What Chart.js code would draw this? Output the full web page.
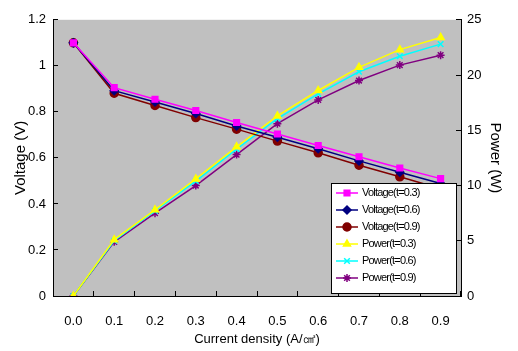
<!DOCTYPE html>
<html>
<head>
<meta charset="utf-8">
<script src="https://cdn.jsdelivr.net/npm/chart.js@4.4.0/dist/chart.umd.min.js"></script>
<style>
  body { margin: 0; background: #fff; }
  canvas { display: block; }
</style>
</head>
<body>
<canvas id="fuelChart" width="518" height="351"></canvas>
<script>
// 전류밀도별 전압/출력 곡선

const currentDensity = ["0.0", "0.1", "0.2", "0.3", "0.4", "0.5", "0.6", "0.7", "0.8", "0.9"];

const voltageT03 = [1.10, 0.905, 0.855, 0.806, 0.754, 0.704, 0.654, 0.605, 0.556, 0.51];
const voltageT06 = [1.10, 0.892, 0.843, 0.793, 0.739, 0.69, 0.64, 0.587, 0.538, 0.489];
const voltageT09 = [1.10, 0.881, 0.828, 0.775, 0.725, 0.673, 0.622, 0.568, 0.518, 0.466];

const powerT03 = [0, 5.1, 7.8, 10.6, 13.5, 16.3, 18.6, 20.7, 22.3, 23.4];
const powerT06 = [0, 5.0, 7.7, 10.4, 13.3, 16.05, 18.3, 20.3, 21.7, 22.8];
const powerT09 = [0, 4.9, 7.5, 10.0, 12.8, 15.6, 17.75, 19.5, 20.9, 21.8];

const voltageTicks = [0, 0.2, 0.4, 0.6, 0.8, 1.0, 1.2];
const powerTicks = [0, 5, 10, 15, 20, 25];

const fontFamily = "'Liberation Sans', Arial, sans-serif";

function makeSet(label, data, color, style, axis) {
  return {
    label: label,
    data: data,
    yAxisID: axis,
    borderColor: color,
    backgroundColor: color,
    borderWidth: 1.5,
    pointStyle: style,
    pointRadius: 4,
    pointBorderWidth: 1.5,
    pointBorderColor: color,
    pointBackgroundColor: color,
    tension: 0,
  };
}

const datasets = [
  makeSet("Voltage(t=0.3)", voltageT03, "#ff00ff", "rect", "y"),
  makeSet("Voltage(t=0.6)", voltageT06, "#000080", "rectRot", "y"),
  makeSet("Voltage(t=0.9)", voltageT09, "#800000", "circle", "y"),
  makeSet("Power(t=0.3)", powerT03, "#ffff00", "triangle", "y1"),
  makeSet("Power(t=0.6)", powerT06, "#00ffff", "crossRot", "y1"),
  makeSet("Power(t=0.9)", powerT09, "#800080", "star", "y1"),
];

// 플롯 영역 회색 배경
const plotBackground = {
  id: "plotBackground",
  beforeDraw(chart) {
    const { ctx, chartArea } = chart;
    ctx.save();
    ctx.fillStyle = "#c0c0c0";
    ctx.fillRect(chartArea.left, chartArea.top, chartArea.right - chartArea.left, chartArea.bottom - chartArea.top);
    ctx.restore();
  },
};

// 선 + 마커 범례
const boxLegend = {
  id: "boxLegend",
  afterDraw(chart) {
    const { ctx, chartArea } = chart;
    const x0 = chartArea.right - 130;
    const y0 = chartArea.bottom - 113;
    const w = 125;
    const h = 110;
    ctx.save();
    ctx.fillStyle = "#fff";
    ctx.fillRect(x0, y0, w, h);
    ctx.strokeStyle = "#000";
    ctx.lineWidth = 1;
    ctx.strokeRect(x0 + 0.5, y0 + 0.5, w, h);
    chart.data.datasets.forEach((ds, i) => {
      const y = y0 + 10 + i * 17;
      ctx.strokeStyle = ds.borderColor;
      ctx.lineWidth = 1.5;
      ctx.beginPath();
      ctx.moveTo(x0 + 5, y);
      ctx.lineTo(x0 + 27, y);
      ctx.stroke();
      ctx.fillStyle = ds.borderColor;
      Chart.helpers.drawPoint(ctx, { pointStyle: ds.pointStyle, radius: 4, borderWidth: 1.5 }, x0 + 16, y);
      ctx.fillStyle = "#000";
      ctx.font = "11px " + fontFamily;
      ctx.letterSpacing = "-0.8px";
      ctx.textBaseline = "middle";
      ctx.fillText(ds.label, x0 + 31, y);
    });
    ctx.restore();
  },
};

const ctx = document.getElementById("fuelChart").getContext("2d");
new Chart(ctx, {
  type: "line",
  data: {
    labels: currentDensity,
    datasets: datasets,
  },
  plugins: [plotBackground, boxLegend],
  options: {
    responsive: false,
    animation: false,
    layout: {
      padding: { top: 13, left: 0, right: 0, bottom: 0 },
    },
    plugins: {
      legend: { display: false },
      tooltip: { enabled: false },
    },
    scales: {
      x: {
        offset: true,
        grid: { offset: true, drawOnChartArea: false, tickLength: -5, color: "#000" },
        border: { display: true, color: "#000", width: 1 },
        ticks: { color: "#000", padding: 23, maxRotation: 0, font: { family: fontFamily, size: 13 } },
        title: {
          display: true,
          text: "Current density (A/㎠)",
          color: "#000",
          padding: { top: 0, bottom: 4 },
          font: { family: fontFamily, size: 13 },
        },
        afterFit(scale) {
          scale.height = 55;
        },
      },
      y: {
        position: "left",
        min: 0,
        max: 1.2,
        afterBuildTicks(scale) {
          scale.ticks = voltageTicks.map((v) => ({ value: v }));
        },
        grid: { drawOnChartArea: false, tickLength: -5, color: "#000" },
        border: { display: true, color: "#000", width: 1 },
        ticks: {
          color: "#000",
          padding: 12,
          font: { family: fontFamily, size: 13 },
          callback: (v) => String(Math.round(v * 10) / 10),
        },
        title: {
          display: true,
          text: "Voltage (V)",
          color: "#000",
          padding: { top: 12, bottom: 0 },
          font: { family: fontFamily, size: 15 },
        },
        afterFit(scale) {
          scale.width = 53;
        },
      },
      y1: {
        position: "right",
        min: 0,
        max: 25,
        afterBuildTicks(scale) {
          scale.ticks = powerTicks.map((v) => ({ value: v }));
        },
        grid: { drawOnChartArea: false, tickLength: -5, color: "#000" },
        border: { display: true, color: "#000", width: 1 },
        ticks: { color: "#000", padding: 11, font: { family: fontFamily, size: 13 } },
        title: {
          display: true,
          text: "Power (W)",
          color: "#000",
          padding: { top: 14, bottom: 0 },
          font: { family: fontFamily, size: 15 },
        },
        afterFit(scale) {
          scale.width = 57;
        },
      },
    },
  },
});
</script>
</body>
</html>
